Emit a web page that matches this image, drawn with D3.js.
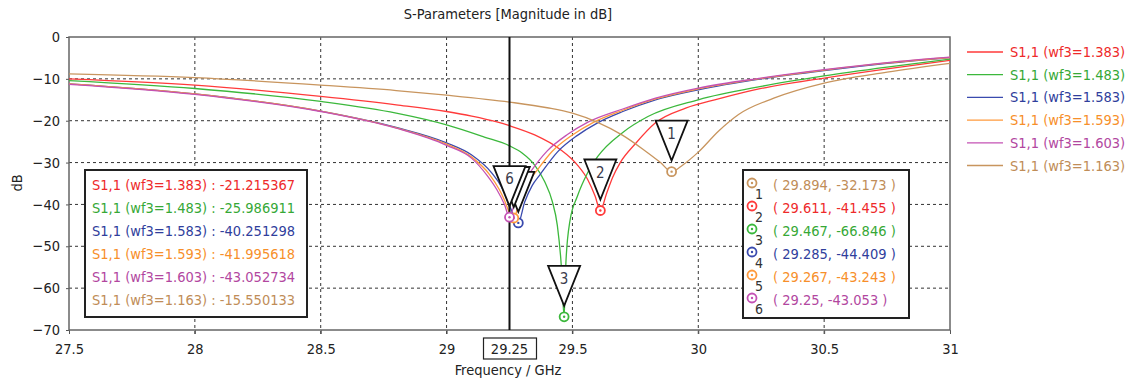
<!DOCTYPE html>
<html>
<head>
<meta charset="utf-8">
<script src="https://cdn.jsdelivr.net/npm/d3@7"></script>
<style>
body { margin: 0; background: #fff; }
text { font-family: 'DejaVu Sans Condensed', 'DejaVu Sans', sans-serif; font-stretch: condensed; }
</style>
</head>
<body>
<svg id="chart" width="1134" height="383"></svg>
<script>
// series: [frequency GHz, |S11| dB]
var s1383 = [[27.5,-10.0],[28.0,-11.5],[28.5,-14.2],[28.8,-16.2],[29.0,-17.8],[29.1,-18.9],[29.2,-20.3],[29.25,-21.2],[29.35,-23.4],[29.45,-26.8],[29.52,-30.6],[29.56,-34],[29.59,-38],[29.611,-41.455],[29.635,-37.5],[29.66,-33.5],[29.69,-30],[29.75,-25.5],[29.83,-20.5],[29.95,-17],[30.08,-14.8],[30.25,-12.3],[30.5,-9.8],[30.75,-7.6],[31.0,-5.6]];
var s1483 = [[27.5,-10.4],[28.0,-12.3],[28.5,-15.4],[28.8,-18.2],[29.0,-21.0],[29.15,-23.9],[29.25,-26.0],[29.3,-27.7],[29.35,-30.6],[29.39,-34.6],[29.42,-39.3],[29.44,-45],[29.455,-54],[29.467,-66.846],[29.474,-54],[29.49,-44],[29.52,-38],[29.56,-32.5],[29.6,-28.6],[29.7,-22.8],[29.8,-19],[30.0,-15],[30.25,-11.8],[30.5,-9.3],[30.75,-7.2],[31.0,-5.3]];
var s1583 = [[27.5,-11.2],[28.0,-13.6],[28.5,-17.7],[28.8,-21.6],[29.0,-25.3],[29.1,-28.2],[29.18,-32.5],[29.22,-36],[29.25,-40.25],[29.285,-44.409],[29.31,-39.5],[29.34,-35.5],[29.37,-33],[29.44,-27.5],[29.52,-23.5],[29.6,-20.5],[29.7,-17.8],[29.83,-15],[30.0,-12.6],[30.25,-10],[30.5,-8],[30.75,-6.3],[31.0,-4.9]];
var s1593 = [[27.5,-11.2],[28.0,-13.6],[28.5,-17.7],[28.8,-21.7],[29.0,-25.6],[29.1,-28.7],[29.17,-32.8],[29.21,-36.5],[29.23,-39],[29.25,-42.0],[29.267,-43.243],[29.29,-39],[29.32,-35],[29.35,-32.6],[29.42,-27.3],[29.5,-23.4],[29.58,-20.5],[29.7,-17.5],[29.83,-14.8],[30.0,-12.4],[30.25,-9.9],[30.5,-7.9],[30.75,-6.2],[31.0,-4.9]];
var s1603 = [[27.5,-11.3],[28.0,-13.7],[28.5,-17.8],[28.8,-21.8],[29.0,-25.9],[29.1,-29],[29.16,-33],[29.2,-36.5],[29.23,-40],[29.25,-43.053],[29.273,-39],[29.3,-35.2],[29.33,-32.5],[29.4,-27.2],[29.48,-23.3],[29.56,-20.4],[29.7,-17.2],[29.83,-14.6],[30.0,-12.2],[30.25,-9.8],[30.5,-7.8],[30.75,-6.1],[31.0,-4.8]];
var s1163 = [[27.5,-8.8],[28.0,-9.7],[28.5,-11.5],[28.8,-12.8],[29.0,-13.9],[29.25,-15.55],[29.4,-16.9],[29.5,-18.2],[29.6,-20.4],[29.7,-23.5],[29.78,-26.8],[29.85,-30],[29.894,-32.173],[29.94,-30.5],[30.0,-27.5],[30.08,-22.5],[30.16,-18.5],[30.3,-14.6],[30.5,-11],[30.75,-8.4],[31.0,-6.3]];

var seriesNames = ["S1,1 (wf3=1.383)","S1,1 (wf3=1.483)","S1,1 (wf3=1.583)","S1,1 (wf3=1.593)","S1,1 (wf3=1.603)","S1,1 (wf3=1.163)"];
var seriesData = [s1383, s1483, s1583, s1593, s1603, s1163];
var lineColors = ["#ff3a3a","#3cb83c","#3a4aae","#ff9a3c","#c452b4","#c8955e"];
var textColors = ["#ee2a2a","#36a836","#2f3e9c","#f78f2a","#b2479f","#c08d58"];

// values at the cursor line f = 29.25
var cursorFreq = 29.25;
var cursorValues = ["-21.215367","-25.986911","-40.251298","-41.995618","-43.052734","-15.550133"];

// markers
var markerNum = [1,2,3,4,5,6];
var markerFreq = [29.894, 29.611, 29.467, 29.285, 29.267, 29.25];
var markerDb = [-32.173, -41.455, -66.846, -44.409, -43.243, -43.053];
var markerSeries = [5, 0, 1, 2, 3, 4];
var markerLabel = ["( 29.894, -32.173 )","( 29.611, -41.455 )","( 29.467, -66.846 )","( 29.285, -44.409 )","( 29.267, -43.243 )","( 29.25, -43.053 )"];

var xTicks = [27.5, 28, 28.5, 29, 29.5, 30, 30.5, 31];
var xTickLabels = ["27.5","28","28.5","29","29.5","30","30.5","31"];
var yTicks = [0, -10, -20, -30, -40, -50, -60, -70];

var svg = d3.select("#chart");
var L = 69, R = 950, T = 37, B = 330;
var x = d3.scaleLinear().domain([27.5, 31]).range([L, R]);
var y = d3.scaleLinear().domain([-70, 0]).range([B, T]);

svg.append("text").attr("x", 508).attr("y", 19).attr("text-anchor", "middle")
  .attr("font-size", 14.5).attr("fill", "#222").text("S-Parameters [Magnitude in dB]");

// grid
var grid = svg.append("g").attr("stroke", "#333").attr("stroke-width", 1).attr("stroke-dasharray", "3,3");
xTicks.slice(1, -1).forEach(function(t) {
  grid.append("line").attr("x1", x(t)).attr("x2", x(t)).attr("y1", T).attr("y2", B + 4);
});
yTicks.slice(1, -1).forEach(function(t) {
  grid.append("line").attr("x1", L).attr("x2", R).attr("y1", y(t)).attr("y2", y(t));
});

// axes
var yAxis = svg.append("g").attr("transform", "translate(" + L + ",0)")
  .call(d3.axisLeft(y).tickValues(yTicks).tickSize(3).tickPadding(6).tickFormat(d3.format("d")));
yAxis.select(".domain").remove();
yAxis.selectAll("text").attr("font-size", 14.5).attr("fill", "#222").style("font-family", null);
yAxis.selectAll("line").attr("stroke", "#555");

var xAxis = svg.append("g").attr("transform", "translate(0," + B + ")")
  .call(d3.axisBottom(x).tickValues(xTicks).tickSize(4).tickPadding(10).tickFormat(function(d, i) { return xTickLabels[i]; }));
xAxis.select(".domain").remove();
xAxis.selectAll("text").attr("font-size", 14.5).attr("fill", "#222");
xAxis.selectAll("line").attr("stroke", "#555");

svg.append("rect").attr("x", L).attr("y", T).attr("width", R - L).attr("height", B - T)
  .attr("fill", "none").attr("stroke", "#666").attr("stroke-width", 1.5);

svg.append("text").attr("x", 508).attr("y", 375).attr("text-anchor", "middle")
  .attr("font-size", 14.5).attr("fill", "#222").text("Frequency / GHz");
svg.append("text").attr("transform", "translate(22,183) rotate(-90)").attr("text-anchor", "middle")
  .attr("font-size", 14.5).attr("fill", "#222").text("dB");

// curves
svg.append("clipPath").attr("id", "plotclip").append("rect")
  .attr("x", L).attr("y", T).attr("width", R - L).attr("height", B - T);
var line = d3.line().x(function(d) { return x(d[0]); }).y(function(d) { return y(d[1]); }).curve(d3.curveMonotoneX);
var curves = svg.append("g").attr("clip-path", "url(#plotclip)");
seriesData.forEach(function(s, i) {
  curves.append("path").datum(s).attr("d", line).attr("fill", "none")
    .attr("stroke", lineColors[i]).attr("stroke-width", 1.3);
});

// cursor line
svg.append("line").attr("x1", x(cursorFreq)).attr("x2", x(cursorFreq)).attr("y1", T).attr("y2", B)
  .attr("stroke", "#111").attr("stroke-width", 2);
svg.append("rect").attr("x", x(cursorFreq) - 26).attr("y", 338).attr("width", 53).attr("height", 21)
  .attr("fill", "#fff").attr("stroke", "#222").attr("stroke-width", 1.2);
svg.append("text").attr("x", x(cursorFreq)).attr("y", 354).attr("text-anchor", "middle")
  .attr("font-size", 14.5).attr("fill", "#222").text("29.25");

// marker circles
function markerCircle(g, cx, cy, color) {
  g.append("circle").attr("cx", cx).attr("cy", cy).attr("r", 4.5).attr("fill", "#fff")
    .attr("stroke", color).attr("stroke-width", 1.8);
  g.append("circle").attr("cx", cx).attr("cy", cy).attr("r", 1.2).attr("fill", color);
}

// triangles; 4 and 5 sit behind 6, so their numbers are hidden
var mk = svg.append("g");
markerNum.forEach(function(m, i) {
  var cx = x(markerFreq[i]), cy = y(markerDb[i]);
  var tip = cy - 11, top = tip - 40;
  mk.append("path").attr("d", "M" + (cx - 16) + "," + top + "L" + (cx + 16) + "," + top + "L" + cx + "," + tip + "Z")
    .attr("fill", "#fff").attr("stroke", "#111").attr("stroke-width", 1.8).attr("stroke-linejoin", "miter");
  if (m !== 4 && m !== 5) {
    mk.append("text").attr("x", cx).attr("y", top + 18).attr("text-anchor", "middle")
      .attr("font-size", 15).attr("fill", "#3a3a4a").text(m);
  }
});
markerNum.forEach(function(m, i) {
  markerCircle(mk, x(markerFreq[i]), y(markerDb[i]), lineColors[markerSeries[i]]);
});

// right legend
var leg = svg.append("g");
seriesNames.forEach(function(n, i) {
  var ly = 52 + i * 22.7;
  leg.append("line").attr("x1", 967).attr("x2", 1003).attr("y1", ly).attr("y2", ly)
    .attr("stroke", lineColors[i]).attr("stroke-width", 1.3);
  leg.append("text").attr("x", 1010).attr("y", ly + 5).attr("font-size", 14.5)
    .attr("fill", textColors[i]).text(n);
});

// cursor value box
var box1 = svg.append("g");
box1.append("rect").attr("x", 85).attr("y", 170).attr("width", 222).attr("height", 147)
  .attr("fill", "#fff").attr("stroke", "#222").attr("stroke-width", 2);
seriesNames.forEach(function(n, i) {
  box1.append("text").attr("x", 92).attr("y", 190 + i * 23).attr("font-size", 14.5)
    .attr("fill", textColors[i]).text(n + " : " + cursorValues[i]);
});

// marker value box
var box2 = svg.append("g");
box2.append("rect").attr("x", 743).attr("y", 170).attr("width", 166).attr("height", 148)
  .attr("fill", "#fff").attr("stroke", "#222").attr("stroke-width", 2);
markerNum.forEach(function(m, i) {
  var ry = 185 + i * 23;
  markerCircle(box2, 752, ry - 2, lineColors[markerSeries[i]]);
  box2.append("text").attr("x", 755).attr("y", ry + 14).attr("font-size", 14)
    .attr("fill", "#333").text(m);
  box2.append("text").attr("x", 773).attr("y", ry + 5).attr("font-size", 14.5)
    .attr("fill", textColors[markerSeries[i]]).text(markerLabel[i]);
});
</script>
</body>
</html>
